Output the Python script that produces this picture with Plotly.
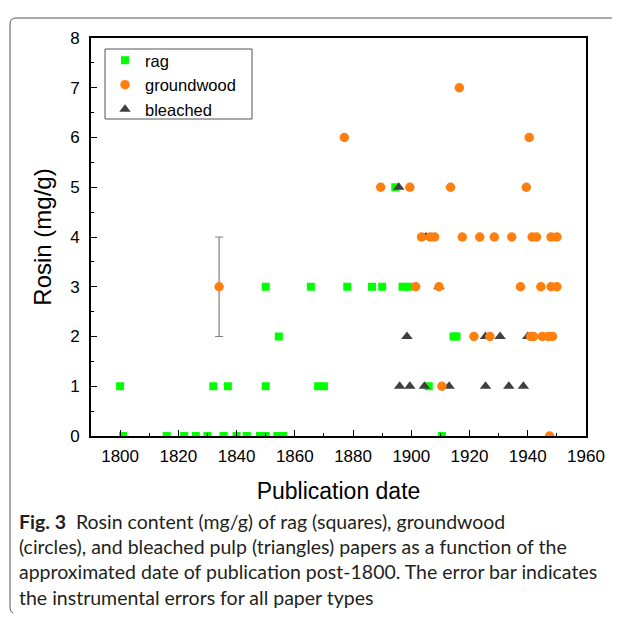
import plotly.graph_objects as go

# ---- data ----
rag_year = [1894.5,
            1850, 1865.5, 1878, 1886.5, 1890, 1897, 1899,
            1854.5, 1914.5, 1915.5,
            1800, 1832, 1837, 1850, 1868, 1870, 1906,
            1801, 1816, 1822, 1826, 1830, 1835.5, 1840, 1843.5, 1848, 1850, 1854, 1856, 1910.5]
rag_rosin = [5,
             3, 3, 3, 3, 3, 3, 3,
             2, 2, 2,
             1, 1, 1, 1, 1, 1, 1,
             0, 0, 0, 0, 0, 0, 0, 0, 0, 0, 0, 0, 0]

gw_year = [1834,
           1916.5,
           1877, 1940.5,
           1889.5, 1899.5, 1913.5, 1939.5,
           1903.5, 1906.5, 1908, 1917.5, 1923.5, 1928.5, 1934.5, 1941.5, 1943, 1948, 1950,
           1901.5, 1909.5, 1937.5, 1944.5, 1948, 1950,
           1921.5, 1927, 1941, 1942, 1945, 1947, 1948.5,
           1910.5,
           1947.5]
gw_rosin = [3,
            7,
            6, 6,
            5, 5, 5, 5,
            4, 4, 4, 4, 4, 4, 4, 4, 4, 4, 4,
            3, 3, 3, 3, 3, 3,
            2, 2, 2, 2, 2, 2, 2,
            1,
            0]
gw_err = [1] + [None] * (len(gw_year) - 1)

bl_year = [1895.7, 1905, 1909.5,
           1898.5, 1925.5, 1930.5, 1940,
           1896, 1899.5, 1904.5, 1913, 1925.5, 1933.5, 1938.5]
bl_rosin = [5, 4, 3,
            2, 2, 2, 2,
            1, 1, 1, 1, 1, 1, 1]

x_ticks = [1800, 1820, 1840, 1860, 1880, 1900, 1920, 1940, 1960]
y_ticks = [0, 1, 2, 3, 4, 5, 6, 7, 8]

caption_lines = [
    "<b>Fig. 3</b>  Rosin content (mg/g) of rag (squares), groundwood",
    "(circles), and bleached pulp (triangles) papers as a function of the",
    "approximated date of publication post-1800. The error bar indicates",
    "the instrumental errors for all paper types",
]

# ---- layout geometry (pixels) ----
W, H = 622, 620
ML, MR, MT, MB = 91, 36, 38, 184
PW, PH = W - ML - MR, H - MT - MB


def px2paper(px, py):
    return (px - ML) / PW, (H - MB - py) / PH


FONT = "Liberation Sans, Arial, sans-serif"

fig = go.Figure()
fig.add_trace(go.Scatter(
    x=rag_year, y=rag_rosin, mode="markers", name="rag", legendrank=1,
    marker=dict(symbol="square", size=8, color="#00ff00", line=dict(width=0)),
))
fig.add_trace(go.Scatter(
    x=bl_year, y=bl_rosin, mode="markers", name="bleached", legendrank=3,
    marker=dict(symbol="triangle-up", size=10, color="#3f3f3f", line=dict(width=0)),
))
fig.add_trace(go.Scatter(
    x=gw_year, y=gw_rosin, mode="markers", name="groundwood", legendrank=2,
    marker=dict(symbol="circle", size=9.5, color="#ff7f0e", line=dict(width=0)),
    error_y=dict(type="data", array=gw_err, visible=True, color="#7f7f7f",
                 thickness=1.2, width=4),
))

axis_common = dict(
    showline=True, linecolor="black", linewidth=1.6, mirror=True,
    ticks="inside", ticklen=6, tickwidth=1.3, tickcolor="black",
    showgrid=False, zeroline=False,
    tickfont=dict(family=FONT, size=17, color="black"),
)

fig.update_xaxes(
    range=[1790, 1960], tickvals=x_ticks, ticktext=[str(v) for v in x_ticks],
    ticklabelstandoff=4,
    minor=dict(ticks="inside", ticklen=3.5, tickwidth=1.3, tickcolor="black", dtick=10, tick0=1790),
    title=dict(text="Publication date", font=dict(family=FONT, size=23, color="black"), standoff=18),
    **axis_common,
)
fig.update_yaxes(
    range=[0, 8], tickvals=y_ticks, ticktext=[str(v) for v in y_ticks],
    ticklabelstandoff=6,
    minor=dict(ticks="inside", ticklen=3.5, tickwidth=1.3, tickcolor="black", dtick=0.5, tick0=0),
    title=dict(text="Rosin (mg/g)", font=dict(family=FONT, size=24, color="black"), standoff=12),
    **axis_common,
)

# legend (frameless) + its box drawn as a shape to match the reference spacing
lx, ly = px2paper(105, 43)
fig.update_layout(
    width=W, height=H, autosize=False,
    margin=dict(l=ML, r=MR, t=MT, b=MB, pad=0),
    paper_bgcolor="white", plot_bgcolor="white",
    font=dict(family=FONT, color="black"),
    legend=dict(
        x=lx, y=ly, xanchor="left", yanchor="top",
        bgcolor="rgba(0,0,0,0)", borderwidth=0,
        font=dict(family=FONT, size=16.5, color="black"),
        tracegroupgap=0, itemsizing="trace",
    ),
)
bx0, by0 = px2paper(105, 49)
bx1, by1 = px2paper(252, 119)
fig.add_shape(type="rect", x0=bx0, y0=by1, x1=bx1, y1=by0, xref="paper", yref="paper",
              line=dict(color="#555555", width=1), layer="above")

# caption
cap_font = dict(family="Lato, Open Sans, sans-serif", size=19.5, color="#231f20")
cap_y_px = [521, 546, 571, 597]
for txt, ypx in zip(caption_lines, cap_y_px):
    cx, cy = px2paper(17, ypx)
    fig.add_annotation(text=txt, x=cx, y=cy, xref="paper", yref="paper",
                       xanchor="left", yanchor="middle", showarrow=False,
                       font=cap_font, align="left")

# figure frame (top + left with rounded corner)
pts = [(612, 18), (16, 18), (10, 24), (10, 606), (13, 613)]
p = [px2paper(a, b) for a, b in pts]
path = (f"M {p[0][0]},{p[0][1]} L {p[1][0]},{p[1][1]} "
        f"Q {px2paper(10,18)[0]},{px2paper(10,18)[1]} {p[2][0]},{p[2][1]} "
        f"L {p[3][0]},{p[3][1]} Q {px2paper(10,612)[0]},{px2paper(10,612)[1]} {p[4][0]},{p[4][1]}")
fig.add_shape(type="path", path=path, xref="paper", yref="paper",
              line=dict(color="#555555", width=1), layer="above")

fig.write_html("out.html")
